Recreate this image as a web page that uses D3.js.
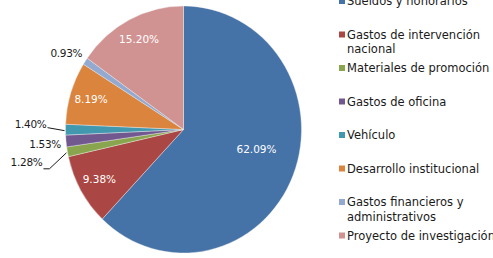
<!DOCTYPE html>
<html>
<head>
<meta charset="utf-8">
<style>
  body { margin: 0; background: #fff; overflow: hidden; }
  text { font-family: "DejaVu Sans", sans-serif; }
</style>
</head>
<body>
<svg width="493" height="258" id="chart"></svg>
<script src="https://cdn.jsdelivr.net/npm/d3@7"></script>
<script>
// ---- data ----
var categories = [
  "Sueldos y honorarios",
  "Gastos de intervención nacional",
  "Materiales de promoción",
  "Gastos de oficina",
  "Vehículo",
  "Desarrollo institucional",
  "Gastos financieros y administrativos",
  "Proyecto de investigación"
];
var shares = [62.09, 9.38, 1.28, 1.53, 1.40, 8.19, 0.93, 15.20];
var legendLines = [
  ["Sueldos y honorarios"],
  ["Gastos de intervención", "nacional"],
  ["Materiales de promoción"],
  ["Gastos de oficina"],
  ["Vehículo"],
  ["Desarrollo institucional"],
  ["Gastos financieros y", "administrativos"],
  ["Proyecto de investigación"]
];
var colors = ["#4572A7", "#AA4643", "#89A54E", "#71588F", "#4198AF", "#DB843D", "#93A9CF", "#D19392"];

// ---- layout ----
var svg = d3.select("#chart"),
    cx = 183.5, cy = 129.5,
    rx = 118, ry = 123.5;

var color = d3.scaleOrdinal().domain(categories).range(colors);

var pie = d3.pie().sort(null).value(function(d) { return d.v; });
var arcs = pie(categories.map(function(c, i) { return {name: c, v: shares[i]}; }));

var arc = d3.arc().innerRadius(0).outerRadius(rx);

var g = svg.append("g").attr("transform", "translate(" + cx + "," + cy + ")");

g.append("g")
    .attr("transform", "scale(1," + (ry / rx) + ")")
  .selectAll("path")
  .data(arcs)
  .enter().append("path")
    .attr("d", arc)
    .attr("fill", function(d) { return color(d.data.name); })
    .attr("stroke", "#f0f0f0")
    .attr("stroke-width", 0.4);

// point on the (elliptical) edge at angle a, radius factor k
function edge(a, k) {
  return [Math.sin(a) * rx * k, -Math.cos(a) * ry * k];
}
function mid(d) { return (d.startAngle + d.endAngle) / 2; }

var fmt = function(v) { return v.toFixed(2) + "%"; };

// inside labels for the big slices
var inside = arcs.filter(function(d) { return d.data.v > 5; });
g.selectAll(".lbl-in")
  .data(inside)
  .enter().append("text")
    .attr("class", "lbl-in")
    .attr("transform", function(d) {
      var k = d.data.v > 50 ? 0.64 : 0.82;
      var a = d.data.v > 50 ? mid(d) - 0.12 : mid(d);
      var p = edge(a, k);
      return "translate(" + p[0] + "," + p[1] + ")";
    })
    .attr("text-anchor", "middle")
    .attr("dy", "0.35em")
    .attr("fill", "#fff")
    .style("font-size", "10.5px")
    .text(function(d) { return fmt(d.data.v); });

// outside labels for the small slices: offset from the edge point
var outOffsets = {
  "Materiales de promoción": [-25, 11, "elbow"],
  "Gastos de oficina": [-5, 3, "none"],
  "Vehículo": [-19, -5, "line"],
  "Gastos financieros y administrativos": [-3, -8, "none"]
};
var outside = arcs.filter(function(d) { return d.data.v <= 5; });

outside.forEach(function(d) {
  var o = outOffsets[d.data.name];
  var p = edge(mid(d), 1);
  var tx = p[0] + o[0], ty = p[1] + o[1];
  g.append("text")
      .attr("x", tx)
      .attr("y", ty)
      .attr("dy", "0.35em")
      .attr("text-anchor", "end")
      .attr("fill", "#1a1a1a")
      .style("font-size", "10.5px")
      .style("letter-spacing", "-0.3px")
      .text(fmt(d.data.v));
  if (o[2] === "line") {
    g.append("path")
        .attr("d", d3.line()([[tx + 1, ty + 3], [p[0] - 1, p[1] + 1]]))
        .attr("stroke", "#1a1a1a").attr("fill", "none").attr("stroke-width", 1);
  } else if (o[2] === "elbow") {
    g.append("path")
        .attr("d", d3.line()([[tx + 1, ty + 6], [tx + 7, ty + 6], [p[0] - 1, p[1] + 1]]))
        .attr("stroke", "#1a1a1a").attr("fill", "none").attr("stroke-width", 1);
  }
});

// ---- legend ----
var legend = svg.append("g").attr("transform", "translate(339,1)");
var item = legend.selectAll(".item")
  .data(categories)
  .enter().append("g")
    .attr("class", "item")
    .attr("transform", function(d, i) { return "translate(0," + (i * 33.5) + ")"; });

item.append("rect")
    .attr("x", 0).attr("y", -3)
    .attr("width", 6).attr("height", 6)
    .attr("fill", function(d) { return color(d); });

item.each(function(d, i) {
  var t = d3.select(this).append("text")
      .attr("x", 8)
      .attr("fill", "#1a1a1a")
      .style("font-size", "11.5px");
  legendLines[i].forEach(function(line, j) {
    t.append("tspan").attr("x", 8).attr("y", j * 14.5).attr("dy", "0.35em").text(line);
  });
});
</script>
</body>
</html>
